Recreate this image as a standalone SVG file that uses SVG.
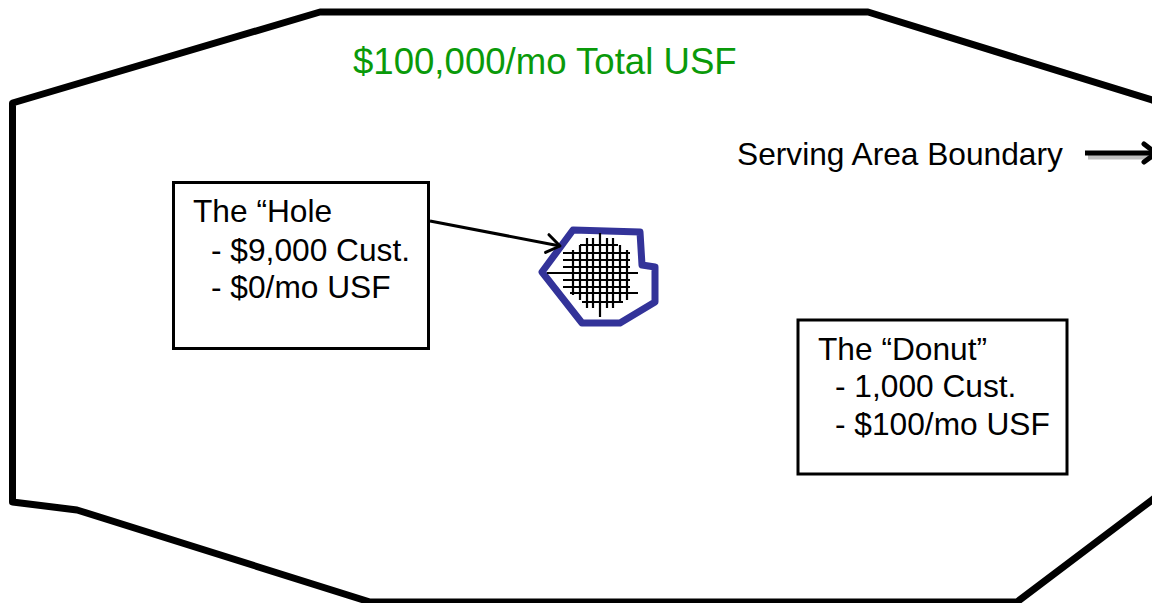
<svg xmlns="http://www.w3.org/2000/svg" width="1152" height="603" viewBox="0 0 1152 603">
  <style>
    .t { font-family: "Liberation Sans", Arial, sans-serif; font-size: 31.7px; fill: #000; }
    .title { font-family: "Liberation Sans", Arial, sans-serif; font-size: 36.6px; fill: #0a9a0a; }
    .box { fill: #fff; stroke: #000; stroke-width: 3; }
    .grid line { stroke: #000; stroke-width: 2.2; }
  </style>
  <defs>
    <marker id="openArrow" markerUnits="userSpaceOnUse" markerWidth="24" markerHeight="24" refX="15" refY="12" orient="auto" overflow="visible">
      <path d="M2,3 L15,12 L2,21" fill="none" stroke="#000" stroke-width="3" stroke-linecap="round" stroke-linejoin="round"/>
    </marker>
    <marker id="boldArrow" markerUnits="userSpaceOnUse" markerWidth="30" markerHeight="30" refX="18" refY="15" orient="auto" overflow="visible">
      <path d="M6,6 L18,15 L6,24" fill="none" stroke="#000" stroke-width="5" stroke-linecap="round" stroke-linejoin="round"/>
    </marker>
  </defs>

  <rect width="1152" height="603" fill="#fff"/>

  <g id="serving-area">
    <polygon points="12.5,103 320,12 868,12 1152,100 1185,110 1185,475 1152,500 1017,602 370,602 77,510 12.5,502" fill="none" stroke="#000" stroke-width="7" stroke-linejoin="round"/>
    <text class="title" x="353" y="74">$100,000/mo Total USF</text>
  </g>

  <g id="boundary-label">
    <text class="t" x="737" y="165">Serving Area Boundary</text>
  </g>

  <g id="hole-area">
    <polygon points="573,230 640,232 642,265 655,267 655,302 620,323 582,323 542,272" fill="#fff" stroke="#333399" stroke-width="7" stroke-linejoin="round"/>
    <g class="grid">
      <line x1="580" y1="245" x2="618" y2="245"/>
      <line x1="563" y1="253" x2="630" y2="253"/>
      <line x1="563" y1="260" x2="630" y2="260"/>
      <line x1="563" y1="267" x2="630" y2="267"/>
      <line x1="547" y1="273" x2="638" y2="273"/>
      <line x1="563" y1="280" x2="630" y2="280"/>
      <line x1="563" y1="287" x2="630" y2="287"/>
      <line x1="570" y1="293" x2="638" y2="293"/>
      <line x1="582" y1="302" x2="623" y2="302"/>
      <line x1="573" y1="250" x2="573" y2="295"/>
      <line x1="580" y1="245" x2="580" y2="300"/>
      <line x1="587" y1="238" x2="587" y2="308"/>
      <line x1="593" y1="238" x2="593" y2="308"/>
      <line x1="600" y1="233" x2="600" y2="317"/>
      <line x1="607" y1="238" x2="607" y2="308"/>
      <line x1="613" y1="238" x2="613" y2="308"/>
      <line x1="620" y1="245" x2="620" y2="302"/>
      <line x1="627" y1="250" x2="627" y2="300"/>
    </g>
  </g>

  <g id="hole-box">
    <rect class="box" x="173.5" y="182.5" width="255" height="166"/>
    <text class="t" x="193" y="222">The “Hole</text>
    <text class="t" x="211" y="261">- $9,000 Cust.</text>
    <text class="t" x="211" y="298">- $0/mo USF</text>
  </g>

  <g id="donut-box">
    <rect class="box" x="798" y="320" width="269" height="154"/>
    <text class="t" x="818" y="360">The “Donut”</text>
    <text class="t" x="835" y="397">- 1,000 Cust.</text>
    <text class="t" x="835" y="435">- $100/mo USF</text>
  </g>

  <g id="connectors">
    <line x1="1088" y1="157" x2="1152" y2="157" stroke="#bfbfbf" stroke-width="5"/>
    <line x1="1085" y1="153" x2="1156" y2="153" stroke="#000" stroke-width="5" marker-end="url(#boldArrow)"/>
    <line x1="430" y1="221" x2="560" y2="246" stroke="#000" stroke-width="3" marker-end="url(#openArrow)"/>
  </g>
</svg>
